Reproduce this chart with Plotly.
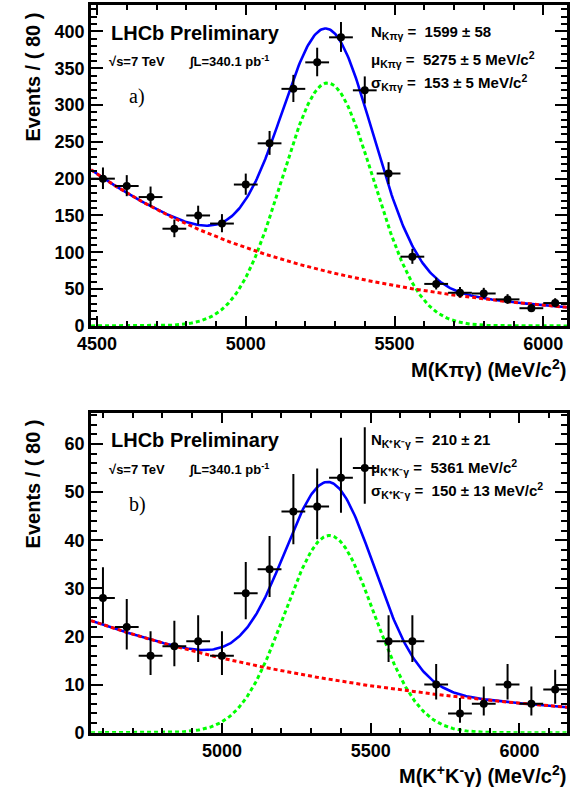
import numpy as np
import plotly.graph_objects as go

# ---------------- Panel a: M(K pi gamma) ----------------
mass_a = [4520, 4600, 4680, 4760, 4840, 4920, 5000, 5080, 5160, 5240,
          5320, 5400, 5480, 5560, 5640, 5720, 5800, 5880, 5960, 6040]
events_a = [200, 190, 175, 132, 150, 139, 192, 248, 322, 358,
            392, 320, 207, 94, 57, 45, 44, 36, 24, 31]
err_up_a = [15.2, 14.8, 14.3, 12.5, 13.3, 12.8, 14.9, 16.8, 19.0, 19.9,
            20.8, 18.9, 15.4, 10.7, 8.6, 7.8, 7.7, 7.1, 5.9, 6.6]
err_dn_a = [14.1, 13.8, 13.2, 11.5, 12.2, 11.8, 13.9, 15.7, 17.9, 18.9,
            19.8, 17.9, 14.4, 9.7, 7.5, 6.7, 6.6, 6.0, 4.9, 5.6]
range_a = [4480, 6080]
# fit curve parameters
sig_a = dict(mu=5275, sigma=153, peak=330)
bkg_a = dict(x0=4480, val0=212, slope=-0.00133)
text_a = ["N<sub>Kπγ</sub> =  1599 ± 58",
          "μ<sub>Kπγ</sub> =  5275 ± 5 MeV/c<sup>2</sup>",
          "σ<sub>Kπγ</sub> =  153 ± 5 MeV/c<sup>2</sup>"]

# ---------------- Panel b: M(K+ K- gamma) ----------------
mass_b = [4600, 4680, 4760, 4840, 4920, 5000, 5080, 5160, 5240, 5320,
          5400, 5480, 5560, 5640, 5720, 5800, 5880, 5960, 6040, 6120]
events_b = [28, 22, 16, 18, 19, 16, 29, 34, 46, 47,
            53, 55, 19, 19, 10, 4, 6, 10, 6, 9]
err_up_b = [6.4, 5.8, 5.1, 5.3, 5.4, 5.1, 6.5, 6.9, 7.8, 7.9,
            8.3, 8.5, 5.4, 5.4, 4.3, 3.2, 3.6, 4.3, 3.6, 4.1]
err_dn_b = [5.3, 4.7, 4.0, 4.2, 4.3, 4.0, 5.4, 5.8, 6.8, 6.8,
            7.3, 7.4, 4.3, 4.3, 3.1, 1.9, 2.4, 3.1, 2.4, 3.0]
range_b = [4560, 6160]
sig_b = dict(mu=5361, sigma=150, peak=41)
bkg_b = dict(x0=4560, val0=23.3, slope=-0.000926)
text_b = ["N<sub>K⁺K⁻γ</sub> =  210 ± 21",
          "μ<sub>K⁺K⁻γ</sub> =  5361 MeV/c<sup>2</sup>",
          "σ<sub>K⁺K⁻γ</sub> =  150 ± 13 MeV/c<sup>2</sup>"]

bin_half = 40

W, H = 570, 801
FONT = "Liberation Sans"


def px(x):
    return x / W


def py(y):
    return 1 - y / H


def curves(rng, sig, bkg):
    x = np.linspace(rng[0], rng[1], 400)
    s = sig["peak"] * np.exp(-0.5 * ((x - sig["mu"]) / sig["sigma"]) ** 2)
    b = bkg["val0"] * np.exp(bkg["slope"] * (x - bkg["x0"]))
    return x, s, b, s + b


fig = go.Figure()

panels = [
    (mass_a, events_a, err_up_a, err_dn_a, range_a, sig_a, bkg_a, "x", "y"),
    (mass_b, events_b, err_up_b, err_dn_b, range_b, sig_b, bkg_b, "x2", "y2"),
]
for m, ev, eu, ed, rng, sg, bk, xa, ya in panels:
    x, s, b, t = curves(rng, sg, bk)
    fig.add_trace(go.Scatter(x=x, y=t, mode="lines", xaxis=xa, yaxis=ya,
                             line=dict(color="#0000ff", width=2.6),
                             showlegend=False, hoverinfo="skip"))
    fig.add_trace(go.Scatter(x=x, y=s, mode="lines", xaxis=xa, yaxis=ya,
                             line=dict(color="#00ff00", width=3, dash="4px,3px"),
                             showlegend=False, hoverinfo="skip"))
    fig.add_trace(go.Scatter(x=x, y=b, mode="lines", xaxis=xa, yaxis=ya,
                             line=dict(color="#ff0000", width=3, dash="4px,3px"),
                             showlegend=False, hoverinfo="skip"))
    fig.add_trace(go.Scatter(
        x=m, y=ev, mode="markers", xaxis=xa, yaxis=ya,
        marker=dict(color="black", size=8),
        error_y=dict(type="data", symmetric=False, array=eu, arrayminus=ed,
                     color="black", thickness=2, width=0),
        error_x=dict(type="constant", value=bin_half, color="black",
                     thickness=2, width=0),
        showlegend=False))

common_axis = dict(showline=True, linewidth=3, linecolor="black", mirror="ticks",
                   ticks="inside", tickwidth=2, tickcolor="black",
                   showgrid=False, zeroline=False,
                   tickfont=dict(family=FONT, size=18, color="black", weight="bold"))

dom_x = [px(79), px(567)]
fig.update_layout(
    width=W, height=H, margin=dict(l=0, r=0, t=0, b=0),
    paper_bgcolor="white", plot_bgcolor="white",
    xaxis=dict(domain=dom_x, range=range_a, anchor="y", tick0=4500, dtick=500, ticklen=10,
               minor=dict(ticks="inside", ticklen=5, dtick=100, tick0=4500,
                          tickwidth=2, tickcolor="black"),
               **common_axis),
    yaxis=dict(domain=[py(330), py(5)], range=[0, 436], anchor="x", dtick=50, ticklen=12,
               minor=dict(ticks="inside", ticklen=6, dtick=10,
                          tickwidth=2, tickcolor="black"),
               **common_axis),
    xaxis2=dict(domain=dom_x, range=range_b, anchor="y2", tick0=4500, dtick=500, ticklen=10,
                minor=dict(ticks="inside", ticklen=5, dtick=100, tick0=4500,
                           tickwidth=2, tickcolor="black"),
                **common_axis),
    yaxis2=dict(domain=[py(742), py(418)], range=[0, 66.5], anchor="x2", dtick=10, ticklen=12,
                minor=dict(ticks="inside", ticklen=6, dtick=2,
                           tickwidth=2, tickcolor="black"),
                **common_axis),
)

ann = []
bold = dict(family=FONT, color="black", weight="bold")


def add(text, x, y, size, xanchor="left", font=None, angle=0):
    f = dict(bold) if font is None else dict(font)
    f["size"] = size
    ann.append(dict(text=text, x=px(x), y=py(y), xref="paper", yref="paper",
                    xanchor=xanchor, yanchor="middle", showarrow=False,
                    font=f, textangle=angle))


for top, lab, texts in [(0, "a)", text_a), (413, "b)", text_b)]:
    add("LHCb Preliminary", 97, top + 33, 20)
    add("√s=7 TeV", 95, top + 62, 13)
    add("∫L=340.1 pb<sup>-1</sup>", 177, top + 62, 13)
    add(lab, 116, top + 98, 20, font=dict(family="Liberation Serif", color="black"))
    for i, t in enumerate(texts):
        add(t, 364, top + [33, 60, 84][i], 15)

add("M(Kπγ) (MeV/c<sup>2</sup>)", 568, 373, 20, xanchor="right")
add("M(K<sup>+</sup>K<sup>-</sup>γ) (MeV/c<sup>2</sup>)", 568, 784, 20, xanchor="right")
add("Events / ( 80 )", 19, 78, 20, xanchor="center", angle=-90)
add("Events / ( 80 )", 19, 490, 20, xanchor="center", angle=-90)

fig.update_layout(annotations=ann)

fig.write_html("out.html", config={"displayModeBar": False},
               post_script="document.body.style.margin='0';")
